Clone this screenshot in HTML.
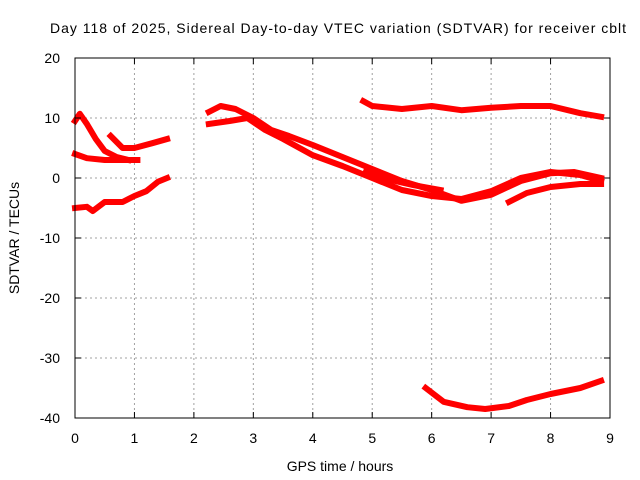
<!DOCTYPE html>
<html><head><meta charset="utf-8"><style>
body{margin:0;background:#fff}
svg{display:block;font-family:"Liberation Sans",sans-serif}
</style></head><body>
<svg id="chart" width="640" height="480">
<rect width="640" height="480" fill="#fff"/>
<text x="338" y="33" text-anchor="middle" font-size="14" textLength="576">Day 118 of 2025, Sidereal Day-to-day VTEC variation (SDTVAR) for receiver cblt</text>
<g id="grid"></g>
<g id="series"></g>
<rect x="75" y="58" width="535" height="360" fill="none" stroke="#000" stroke-width="1"/>
<g id="ticks"></g>
<text x="340" y="471" text-anchor="middle" font-size="14">GPS time / hours</text>
<text transform="translate(19,238) rotate(-90)" text-anchor="middle" font-size="14">SDTVAR / TECUs</text>
</svg>
<script>
const xTicks=[0,1,2,3,4,5,6,7,8,9];
const yTicks=[-40,-30,-20,-10,0,10,20];
const arcA=[[0.0,9.5],[0.08,10.7],[0.2,9],[0.35,6.5],[0.5,4.5],[0.7,3.5],[0.9,3]];
const arcB=[[0.0,4],[0.2,3.3],[0.5,3],[0.8,3],[1.05,3]];
const arcC=[[0.6,7],[0.8,5],[1.0,5],[1.3,5.8],[1.55,6.5]];
const arcD=[[0.0,-5],[0.2,-4.8],[0.3,-5.5],[0.5,-4],[0.8,-4],[1.0,-3],[1.2,-2.2],[1.4,-0.6],[1.55,0]];
const arcE=[[2.25,11],[2.45,12],[2.7,11.5],[3.0,10],[3.3,8],[3.6,7],[4.0,5.5],[4.5,3.5],[5.0,1.5],[5.5,-0.5],[6.0,-2],[6.5,-3.8],[7.0,-2.8],[7.5,-0.5],[8.0,0.8],[8.4,1],[8.85,0]];
const arcF=[[2.25,9],[2.6,9.5],[2.9,10],[3.2,8],[3.5,6.5],[4.0,3.8],[4.5,2],[5.0,0],[5.5,-2],[6.0,-3],[6.5,-3.5],[7.0,-2.2],[7.5,0],[8.0,1],[8.5,0.5],[8.85,-0.5]];
const arcG=[[4.9,1.2],[5.3,-0.3],[5.7,-1.2],[6.15,-2]];
const arcH=[[7.3,-4],[7.6,-2.5],[8.0,-1.5],[8.5,-1],[8.85,-1]];
const arcI=[[4.85,12.8],[5.0,12],[5.5,11.5],[6.0,12],[6.5,11.3],[7.0,11.7],[7.5,12],[8.0,12],[8.5,10.8],[8.85,10.2]];
const arcJ=[[5.9,-35],[6.2,-37.3],[6.6,-38.2],[6.9,-38.5],[7.3,-38],[7.6,-37],[8.0,-36],[8.5,-35],[8.85,-33.8]];
const allSeries=[arcA,arcB,arcC,arcD,arcE,arcF,arcG,arcH,arcI,arcJ];
const NS='http://www.w3.org/2000/svg';
function xs(t){return 75+t*(535/9);}
function ys(v){return 178-v*6;}
const grid=document.getElementById('grid'),ticks=document.getElementById('ticks'),ser=document.getElementById('series');
function mk(tag,attrs,parent){const e=document.createElementNS(NS,tag);for(const k in attrs)e.setAttribute(k,attrs[k]);parent.appendChild(e);return e;}
xTicks.forEach(t=>{
  const x=xs(t);
  if(t>0&&t<9){const g=mk('line',{x1:x,x2:x,y1:58,y2:418,stroke:'#a0a0a0','stroke-dasharray':'2,3'},grid);
  
  }
  mk('line',{x1:x,x2:x,y1:418,y2:412,stroke:'#000'},ticks);
  mk('line',{x1:x,x2:x,y1:58,y2:64,stroke:'#000'},ticks);
  const l=mk('text',{x:x,y:443,'text-anchor':'middle','font-size':'14'},ticks);l.textContent=t;
  
  
});
yTicks.forEach(v=>{
  const y=ys(v);
  if(v>-40&&v<20){const g=mk('line',{x1:75,x2:610,y1:y,y2:y,stroke:'#a0a0a0','stroke-dasharray':'2,3'},grid);
  
  }
  mk('line',{x1:75,x2:81,y1:y,y2:y,stroke:'#000'},ticks);
  mk('line',{x1:604,x2:610,y1:y,y2:y,stroke:'#000'},ticks);
  const l=mk('text',{x:60,y:y+5,'text-anchor':'end','font-size':'14'},ticks);l.textContent=v;
  
  
});
allSeries.forEach((s,i)=>{
  const d=s.map((p,j)=>(j?'L':'M')+xs(p[0]).toFixed(1)+','+ys(p[1]).toFixed(1)).join(' ');
  const p=mk('path',{d:d,fill:'none',stroke:'#ff0000','stroke-width':'6','stroke-linejoin':'round','stroke-linecap':'square'},ser);
  
  
});
</script>
</body></html>
